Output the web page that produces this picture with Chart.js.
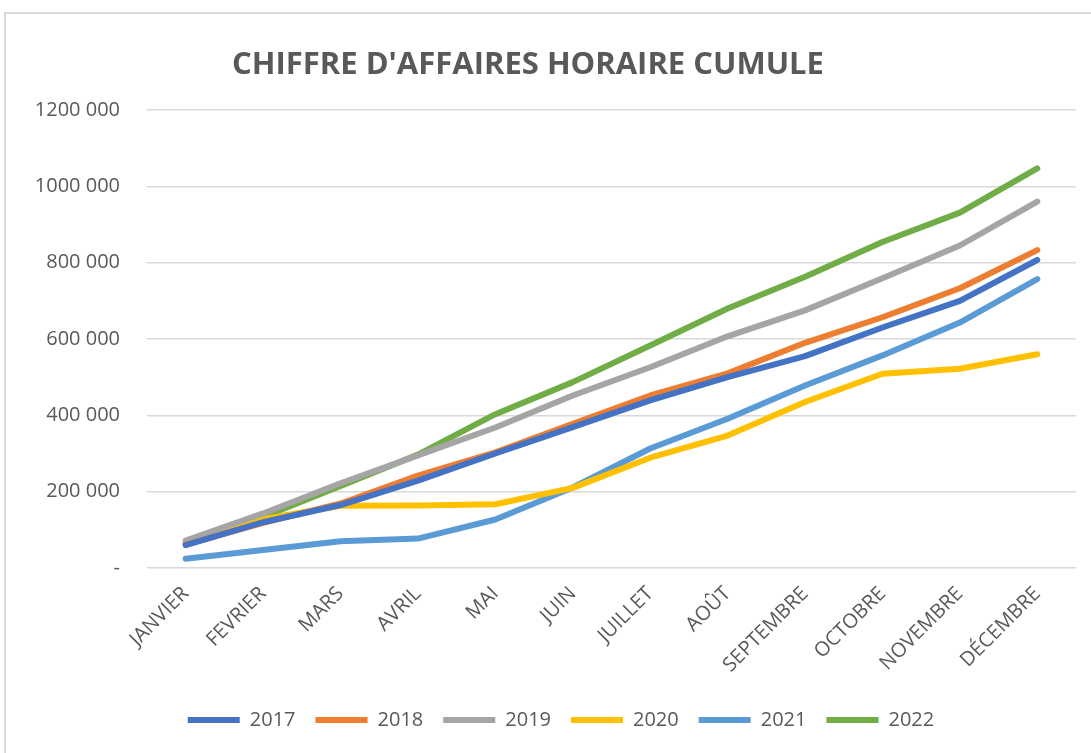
<!DOCTYPE html>
<html lang="fr">
<head>
<meta charset="utf-8">
<title>Chiffre d'affaires horaire cumulé</title>
<script src="https://cdn.jsdelivr.net/npm/chart.js@4/dist/chart.umd.min.js"></script>
<style>
  html, body { margin: 0; padding: 0; background: #fff; }
  #frame {
    position: absolute; left: 4px; top: 12px; width: 1200px; height: 800px;
    border: 2px solid #d9d9d9; box-sizing: border-box;
  }
  #wrap { position: absolute; left: 0; top: 0; width: 1091px; height: 753px; }
</style>
</head>
<body>
<div id="frame"></div>
<div id="wrap"><canvas id="line_chart"></canvas></div>
<script>
"use strict";

/*--------------------------------------
    data
--------------------------------------*/

var months = ["JANVIER", "FEVRIER", "MARS", "AVRIL", "MAI", "JUIN", "JUILLET", "AOÛT", "SEPTEMBRE", "OCTOBRE", "NOVEMBRE", "DÉCEMBRE"];

var ca2017 = [60000, 120000, 165000, 229000, 300000, 369000, 439000, 500000, 555000, 630000, 700000, 807000];
var ca2018 = [61000, 118000, 169000, 242000, 303000, 378000, 452000, 510000, 590000, 657000, 733000, 833000];
var ca2019 = [72000, 143000, 222000, 295000, 368000, 452000, 526000, 607000, 675000, 759000, 845000, 960000];
var ca2020 = [64000, 128000, 163000, 164000, 167000, 210000, 289000, 347000, 435000, 509000, 522000, 560000];
var ca2021 = [24000, 47000, 70000, 77000, 127000, 211000, 313000, 391000, 478000, 557000, 643000, 757000];
var ca2022 = [64000, 134000, 215000, 297000, 403000, 487000, 583000, 680000, 763000, 854000, 931000, 1047000];

var yTicks = [0, 200000, 400000, 600000, 800000, 1000000, 1200000];
var yTickLabels = ["-", "200 000", "400 000", "600 000", "800 000", "1000 000", "1200 000"];

var chartTitle = "CHIFFRE D'AFFAIRES HORAIRE CUMULE";

/*--------------------------------------
    chart js
--------------------------------------*/

var FONT = '"Open Sans", "Liberation Sans", sans-serif';
var GREY_TEXT = '#595959';

function serie(label, data, color) {
  return {
    label: label,
    data: data,
    borderColor: color,
    backgroundColor: color,
    borderWidth: 6,
    borderCapStyle: 'round',
    borderJoinStyle: 'round',
    pointRadius: 0,
    pointHoverRadius: 0,
    tension: 0,
    fill: false
  };
}

// title drawn by hand, Excel puts it off the plot centre
// legend is nudged right the same way
var excelLook = {
  id: 'excelLook',
  afterLayout: function (chart) {
    chart.legend.left += 23;
    chart.legend.right += 23;
  },
  afterDraw: function (chart) {
    var ctx = chart.ctx;
    ctx.save();
    ctx.font = 'bold 31px ' + FONT;
    ctx.fillStyle = GREY_TEXT;
    ctx.textAlign = 'center';
    ctx.textBaseline = 'middle';
    ctx.fillText(chartTitle, 528, 65);
    ctx.restore();
  }
};

new Chart(document.getElementById('line_chart').getContext('2d'), {
  type: 'line',
  data: {
    labels: months,
    datasets: [
      serie('2017', ca2017, '#4472C4'),
      serie('2018', ca2018, '#ED7D31'),
      serie('2019', ca2019, '#A5A5A5'),
      serie('2020', ca2020, '#FFC000'),
      serie('2021', ca2021, '#5B9BD5'),
      serie('2022', ca2022, '#70AD47')
    ]
  },
  options: {
    responsive: true,
    maintainAspectRatio: false,
    animation: false,
    layout: { padding: { top: 110, right: 15, bottom: 13, left: 0 } },
    plugins: {
      title: { display: false },
      tooltip: { enabled: false },
      legend: {
        position: 'bottom',
        labels: {
          usePointStyle: true,
          pointStyle: 'line',
          pointStyleWidth: 52,
          boxHeight: 6,
          padding: 20,
          color: GREY_TEXT,
          font: { family: FONT, size: 20 }
        }
      }
    },
    scales: {
      x: {
        offset: true,
        grid: { display: false, drawTicks: false },
        border: { display: false },
        ticks: {
          color: GREY_TEXT,
          font: { family: FONT, size: 20 },
          maxRotation: 45,
          minRotation: 45,
          autoSkip: false,
          padding: 14
        },
        afterFit: function (scale) { scale.height = 122; }
      },
      y: {
        min: 0,
        max: 1200000,
        grid: { color: '#d9d9d9', lineWidth: 1.5, drawTicks: false },
        border: { display: false },
        afterBuildTicks: function (scale) {
          scale.ticks = yTicks.map(function (v) { return { value: v }; });
        },
        ticks: {
          color: GREY_TEXT,
          font: { family: FONT, size: 20 },
          padding: 27,
          callback: function (value) {
            var i = yTicks.indexOf(value);
            return i >= 0 ? yTickLabels[i] : '';
          }
        },
        afterFit: function (scale) { scale.width = 147; }
      }
    }
  },
  plugins: [excelLook]
});
</script>
</body>
</html>
